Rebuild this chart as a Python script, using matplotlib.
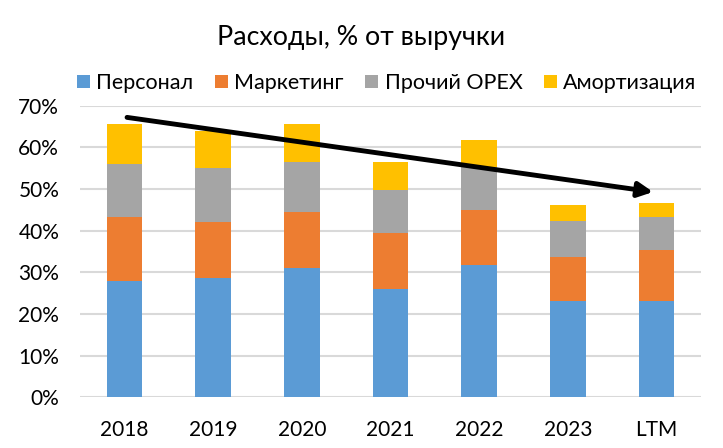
import matplotlib
matplotlib.use("Agg")
import matplotlib.pyplot as plt
import numpy as np
from matplotlib.ticker import FuncFormatter

plt.rcParams['font.family'] = ['Lato', 'DejaVu Sans']

categories = ["2018", "2019", "2020", "2021", "2022", "2023", "LTM"]
personal = [27.9, 28.7, 31.1, 26.0, 31.8, 23.0, 23.2]
marketing = [15.4, 13.5, 13.5, 13.4, 13.2, 10.8, 12.2]
other_opex = [12.8, 12.9, 12.0, 10.4, 10.2, 8.6, 8.0]
amort = [9.6, 8.8, 9.1, 6.8, 6.6, 3.8, 3.2]

series = [("Персонал", personal, "#5B9BD5"),
          ("Маркетинг", marketing, "#ED7D31"),
          ("Прочий OPEX", other_opex, "#A5A5A5"),
          ("Амортизация", amort, "#FFC000")]

fig = plt.figure(figsize=(7.23, 4.48), dpi=100)
ax = fig.add_axes([0.1107, 0.1132, 0.8589, 0.6508])

x = np.arange(len(categories))
bottom = np.zeros(len(categories))
for name, vals, col in series:
    v = np.array(vals) / 100.0
    ax.bar(x, v, width=0.4, bottom=bottom, color=col, label=name, zorder=3)
    bottom += v

ax.set_xlim(-0.5, len(categories) - 0.5)
ax.set_ylim(0, 0.7)
ax.set_yticks(np.arange(0, 0.71, 0.1))
ax.yaxis.set_major_formatter(FuncFormatter(lambda v, p: f"{v*100:.0f}%"))
ax.set_xticks(x)
ax.set_xticklabels(categories)
ax.tick_params(axis='both', length=0, labelsize=15, colors='#000000')
ax.tick_params(axis='x', pad=16)
ax.tick_params(axis='y', pad=15)
ax.grid(axis='y', color='#D9D9D9', linewidth=1.5, zorder=0)
for s in ax.spines.values():
    s.set_visible(False)

ax.annotate('', xy=(5.96, 0.493), xytext=(0.03, 0.672),
            arrowprops=dict(arrowstyle='-|>', lw=3.5, color='black',
                            mutation_scale=22, shrinkA=0, shrinkB=0),
            zorder=5)

fig.text(0.5, 1 - 38 / 448, "Расходы, % от выручки", ha='center', va='center',
         fontsize=19.3)
fig.legend(loc='center', bbox_to_anchor=(0.535, 1 - 83 / 448), ncol=4,
           frameon=False, fontsize=15.5, handlelength=0.6, handleheight=0.6,
           handletextpad=0.3, columnspacing=1.0, borderaxespad=0)

fig.savefig("out.png", dpi=100)
